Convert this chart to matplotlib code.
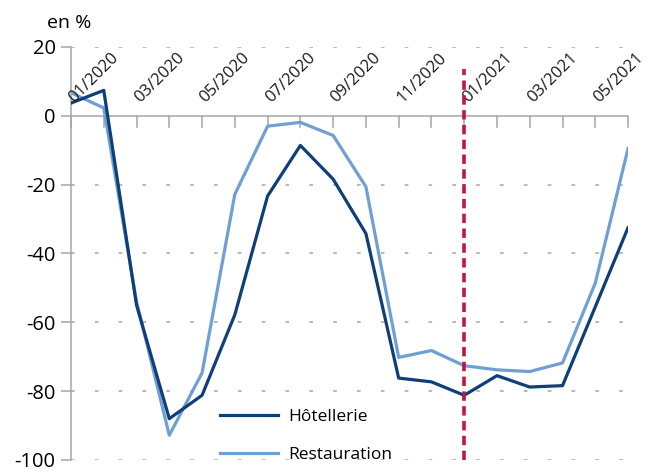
import matplotlib.pyplot as plt

plt.rcParams['font.family'] = ['Open Sans', 'DejaVu Sans']

# mois de 12/2019 à 05/2021
mois = ['12/2019', '01/2020', '02/2020', '03/2020', '04/2020', '05/2020',
        '06/2020', '07/2020', '08/2020', '09/2020', '10/2020', '11/2020',
        '12/2020', '01/2021', '02/2021', '03/2021', '04/2021', '05/2021']
hotellerie = [3.7, 7.4, -55, -88, -81.2, -57.8, -23.3, -8.6, -18.4, -34.2,
              -76.2, -77.3, -81.2, -75.5, -78.8, -78.4, -55.5, -32.5]
restauration = [6.7, 2.3, -54, -92.8, -74.7, -22.8, -3.0, -1.9, -5.7, -20.6,
                -70.2, -68.2, -72.6, -73.8, -74.3, -71.8, -48.6, -9.5]
yticks = [20, 0, -20, -40, -60, -80, -100]
mois_confinement = '12/2020'

fig = plt.figure(figsize=(6.46, 4.7), dpi=100)
ax = fig.add_axes([0.1099, 0.0213, 0.8623, 0.8787])

x = list(range(len(mois)))
grey = '#a6a6a6'

# grille horizontale en pointillés
for v in yticks:
    if v != 0:
        ax.axhline(v, color=grey, lw=1.1, ls=(0, (2.4, 13.2)), zorder=0)

ax.plot(x, hotellerie, color='#0e3f78', lw=2.3, label='Hôtellerie', zorder=3)
ax.plot(x, restauration, color='#6f9fd3', lw=2.3, label='Restauration', zorder=2)

xc = mois.index(mois_confinement)
ax.plot([xc, xc], [-100, 13.5], color='#c0163f', lw=2.6,
        ls=(0, (2.6, 1.5)), zorder=4, clip_on=False)

ax.set_xlim(0, len(mois) - 1)
ax.set_ylim(-100, 20)

for s in ['top', 'right', 'bottom']:
    ax.spines[s].set_visible(False)
ax.spines['left'].set_color(grey)
ax.spines['left'].set_linewidth(1.1)

ax.set_yticks(yticks)
ax.set_yticklabels([str(v) for v in yticks], fontsize=14.5)
ax.tick_params(axis='y', length=7, color=grey, width=1.1, pad=4)

# axe des abscisses sur la ligne zéro, graduations vers le bas
ax.axhline(0, color=grey, lw=1.1, zorder=1)
ax.set_xticks([])
for i in x:
    ax.plot([i, i], [0, -3.3], color=grey, lw=1.1, zorder=1, clip_on=False)

# étiquettes des mois impairs, inclinées
for i, m in enumerate(mois):
    if i % 2 == 1:
        ax.text(i - 0.3, 11.0, m, rotation=45, ha='center', va='center',
                fontsize=12, color='#1a1a1a')

fig.text(0.072, 0.952, 'en %', fontsize=14, ha='left', va='center')

ax.legend(loc='lower left', bbox_to_anchor=(0.24, -0.045), frameon=False,
          fontsize=12.5, handlelength=3.3, labelspacing=1.25,
          handletextpad=0.6)

fig.savefig('out.png', dpi=100)
